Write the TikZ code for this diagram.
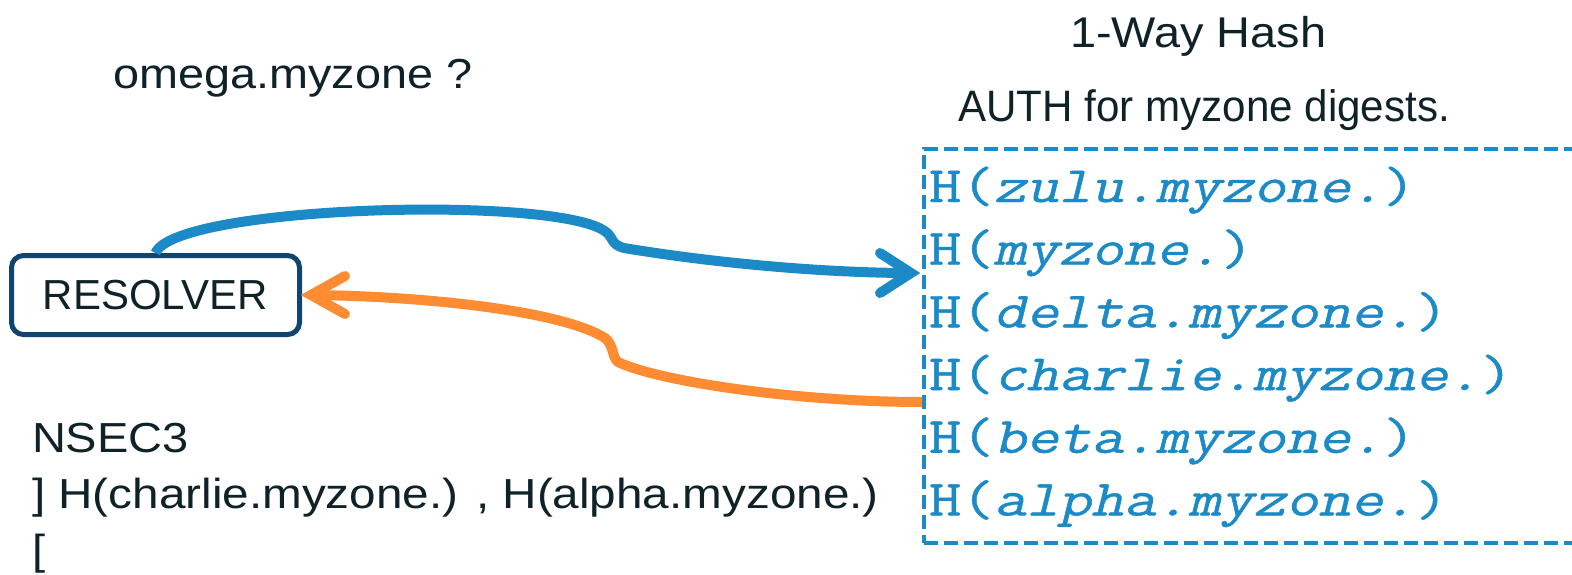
\documentclass[tikz,border=0pt]{standalone}
\usepackage{fontspec}
\usepackage{graphicx}
\setmainfont{Liberation Sans}
\newfontfamily\hmono{Latin Modern Mono}[FakeBold=0.8]
\newfontfamily\hmonosl{Latin Modern Mono}[FakeSlant=0.2, FakeBold=0.8]
\usetikzlibrary{calc}
\definecolor{ink}{HTML}{0E2228}
\definecolor{navy}{HTML}{11446F}
\definecolor{hblue}{HTML}{1B8AC7}
\definecolor{horange}{HTML}{FF8C33}
\newcommand{\hashtxt}[1]{\scalebox{1.235}[1]{H({\hmonosl #1})}}
\begin{document}
\begin{tikzpicture}[x=1pt,y=-1pt,
  lbl/.style={anchor=base west, inner sep=0pt, outer sep=0pt, text=ink},
  hline/.style={anchor=base west, inner sep=0pt, outer sep=0pt, text=hblue,
    font=\fontsize{51}{60}\selectfont\hmono},
  conn/.style={line width=10pt, line cap=butt, line join=round},
  head/.style={line width=10pt, line cap=round, line join=miter}]
\useasboundingbox (0,0) rectangle (1572,574);
\clip (0,0) rectangle (1572,574);

% top texts
\node[lbl, font=\fontsize{42}{50}\selectfont] (q) at (113,88) {\scalebox{1.115}[1]{omega.myzone ?}};
\node[lbl, font=\fontsize{43}{50}\selectfont] (hashtitle) at (1070,47) {\scalebox{1.09}[1]{1-Way Hash}};
\node[lbl, font=\fontsize{44}{50}\selectfont] (auth) at (958,121) {\scalebox{0.958}[1]{AUTH for myzone digests.}};

% resolver
\node[draw=navy, line width=5pt, rounded corners=12pt, minimum width=288pt,
  minimum height=79pt, inner sep=0pt, text=ink, font=\fontsize{42}{50}\selectfont]
  (res) at (155.5,295) {RESOLVER};

% NSEC3 text
\node[lbl, font=\fontsize{42}{50}\selectfont] (n1) at (32,452) {\scalebox{1.12}[1]{NSEC3}};
\node[lbl, font=\fontsize{42}{50}\selectfont] (n2) at (32,508) {\scalebox{1.135}[1]{] H(charlie.myzone.) , H(alpha.myzone.)}};
\node[lbl, font=\fontsize{42}{50}\selectfont] (n3) at (32,564) {\scalebox{1.12}[1]{[}};

% hash box
\node[draw=hblue, line width=4pt, dash pattern=on 14pt off 6pt, anchor=north west,
  minimum width=700pt, minimum height=394pt, inner sep=0pt] (hash) at (922,147) {};
\node[hline] (h1) at (929,202.0) {\hashtxt{zulu.myzone.}};
\node[hline] (h2) at (929,264.7) {\hashtxt{myzone.}};
\node[hline] (h3) at (929,327.4) {\hashtxt{delta.myzone.}};
\node[hline] (h4) at (929,390.1) {\hashtxt{charlie.myzone.}};
\node[hline] (h5) at (929,452.8) {\hashtxt{beta.myzone.}};
\node[hline] (h6) at (929,515.5) {\hashtxt{alpha.myzone.}};

% connectors
\coordinate (btip) at (911,273);
\coordinate (ostart) at ($(hash.north west)+(0,255)$);
\coordinate (otip) at (311,295);

\draw[conn, hblue] (res.north) .. controls (175,205) and (560,195) .. (606,232)
  .. controls (614,238) and (610,244) .. (624,248)
  .. controls (720,264) and (830,273) .. (btip);
\draw[head, hblue] (880,253) -- (btip) -- (880,293);

\draw[conn, horange] (ostart) .. controls (800,402) and (660,382) .. (618,362)
  .. controls (612,358) and (614,345) .. (605,338)
  .. controls (560,310) and (420,296) .. (otip);
\draw[head, horange] (345,276) -- (otip) -- (345,314);
\end{tikzpicture}
\end{document}
